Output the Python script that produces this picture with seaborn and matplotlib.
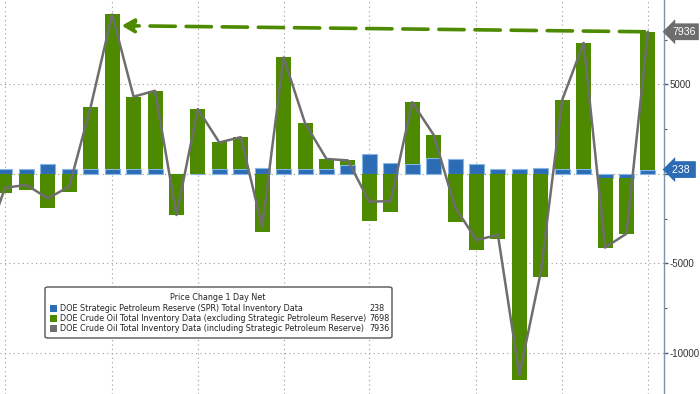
import numpy as np
import pandas as pd
import matplotlib
matplotlib.use("Agg")
import matplotlib.pyplot as plt
from matplotlib.patches import FancyBboxPatch, Rectangle
import seaborn as sns

# === Datos: variación semanal de inventarios DOE (miles de barriles) ===
# la semana 0 queda fuera del área visible (solo aporta el tramo inicial de la línea)
semanas = list(range(32))
spr = [200, 280, 280, 560, 280, 280, 280, 280, 280, 0, 0, 280, 280, 300, 280, 280,
       290, 510, 1100, 600, 560, 880, 840, 560, 250, 270, 300, 280, 280, -230, -230, 238]
crudo_sin_spr = [-4400, -1060, -900, -1930, -990, 3470, 8620, 4030, 4360, -2300, 3620, 1470,
                 1770, -3250, 6220, 2550, 540, 240, -2660, -2120, 3440, 1300, -2700, -4270,
                 -3650, -11500, -5790, 3850, 7030, -3890, -3110, 7698]
crudo_total = [-4200, -780, -620, -1370, -710, 3750, 8900, 4310, 4640, -2300, 3620, 1750,
               2050, -2950, 6500, 2830, 830, 750, -1560, -1520, 4000, 2180, -1860, -3710,
               -3400, -11230, -5490, 4130, 7310, -4120, -3340, 7936]
inicio_mes = [1, 6, 10, 14, 18, 23, 27, 31]

titulo_leyenda = "Price Change 1 Day Net"
etiquetas = ["DOE Strategic Petroleum Reserve (SPR) Total Inventory Data",
             "DOE Crude Oil Total Inventory Data (excluding Strategic Petroleum Reserve)",
             "DOE Crude Oil Total Inventory Data (including Strategic Petroleum Reserve)"]
ultimos = ["238", "7698", "7936"]

verde = "#4d8a00"
azul = "#2b6cb4"
gris = "#6e6e6e"

df = pd.DataFrame({"semana": semanas, "spr": spr, "crudo": crudo_sin_spr, "total": crudo_total})
# el verde se apila sobre el azul cuando tienen el mismo signo
df["base_verde"] = np.where(np.sign(df["spr"]) == np.sign(df["crudo"]), df["spr"], 0)

sns.set_theme(style="white")
plt.rcParams["font.family"] = ["DejaVu Sans"]
plt.rcParams["axes.unicode_minus"] = False

fig = plt.figure(figsize=(7, 3.94), dpi=100)
ax = fig.add_axes([0, 0, 664 / 700, 1])

sns.barplot(data=df, x="semana", y="spr", order=semanas, color=azul, saturation=1,
            width=0.7, errorbar=None, edgecolor="#86b6e6", linewidth=0.8, ax=ax, zorder=2)
sns.barplot(data=df, x="semana", y="crudo", order=semanas, color=verde, saturation=1,
            width=0.7, errorbar=None, bottom=df["base_verde"].tolist(), linewidth=0,
            ax=ax, zorder=2)
sns.lineplot(data=df, x="semana", y="total", color=gris, lw=1.8, sort=False, ax=ax, zorder=3)

# flecha discontinua desde el último valor hasta el máximo anterior
ax.annotate("", xy=(6.45, 8275), xytext=(30.85, 7936),
            arrowprops=dict(arrowstyle="-|>,head_length=0.6,head_width=0.35", color=verde,
                            lw=2.6, linestyle=(0, (7, 3)), shrinkA=0, shrinkB=0),
            zorder=4)

ax.set_xlim(0.767, 31.75)
ax.set_ylim(-12300, 9710)
ax.set_xticks(inicio_mes)
ax.set_xticklabels([])
ax.set_yticks([-10000, -5000, 0, 5000])
ax.set_yticklabels(["-10000", "-5000", "", "5000"], family="Liberation Sans")
ax.set_yticks([-7500, -2500, 2500, 7500], minor=True)
ax.yaxis.tick_right()
ax.tick_params(axis="y", which="major", direction="out", length=3, width=1,
               color="#44607e", labelsize=7, labelcolor="#333333", pad=1)
ax.tick_params(axis="y", which="minor", direction="out", length=2, width=0.8, color="#44607e")
ax.tick_params(axis="x", length=0)
ax.set_xlabel("")
ax.set_ylabel("")
ax.grid(True, which="major", color="#9a9a9a", linestyle=(0, (1, 3)), lw=0.8)
ax.set_axisbelow(True)
for lado in ["left", "top", "bottom"]:
    ax.spines[lado].set_visible(False)
ax.spines["right"].set_color("#7f93aa")
ax.spines["right"].set_linewidth(1)

# etiquetas de último valor en el eje derecho
ax.text(1.012, 7936, "7936", transform=ax.get_yaxis_transform(), fontsize=7.6,
        family="Liberation Sans", color="white", va="center", ha="left",
        bbox=dict(boxstyle="larrow,pad=0.32", fc="#6d6d6d", ec="none"))
ax.text(1.012, 238, "238 ", transform=ax.get_yaxis_transform(), fontsize=7.6,
        family="Liberation Sans", color="white", va="center", ha="left",
        bbox=dict(boxstyle="larrow,pad=0.32", fc=azul, ec="none"))

# leyenda dibujada a mano (título centrado, valores alineados en columna)
fig.patches.append(FancyBboxPatch((45 / 700, 1 - 338 / 394), 347 / 700, 51 / 394,
                                  boxstyle="round,pad=0,rounding_size=0.004",
                                  transform=fig.transFigure, fc="white", ec="#555555", lw=1,
                                  zorder=5))
fig.text(218 / 700, 1 - 297.7 / 394, titulo_leyenda, fontsize=5.8, color="#222222",
         ha="center", va="center", zorder=6)
for i, (txt, val, col) in enumerate(zip(etiquetas, ultimos, [azul, verde, gris])):
    y = 1 - (308.3 + i * 10.3) / 394
    fig.patches.append(Rectangle((50 / 700, y - 3.5 / 394), 7 / 700, 7 / 394,
                                 transform=fig.transFigure, fc=col, ec="none", zorder=6))
    fig.text(60 / 700, y, txt, fontsize=5.8, color="#222222", ha="left", va="center", zorder=6)
    fig.text(369 / 700, y, val, fontsize=5.8, color="#222222", ha="left", va="center", zorder=6)

fig.savefig("out.png", dpi=100)
